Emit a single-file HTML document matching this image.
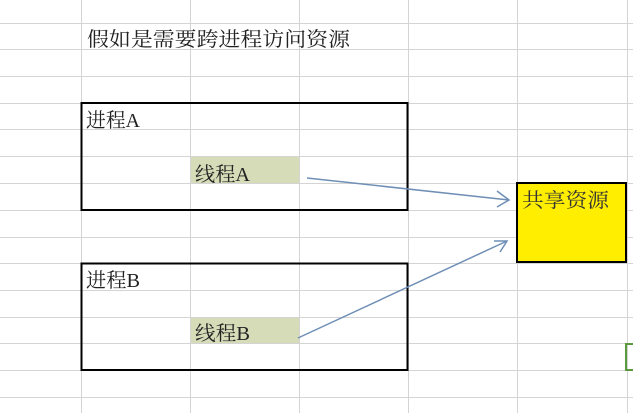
<!DOCTYPE html>
<html><head><meta charset="utf-8"><style>
body{margin:0;width:633px;height:413px;overflow:hidden;background:#fff;font-family:"Liberation Serif","Noto Serif CJK SC","Noto Sans CJK SC",serif;}
</style></head><body>
<svg width="633" height="413" xmlns="http://www.w3.org/2000/svg">
<g stroke="#d4d4d4" stroke-width="1">
<line x1="81.5" y1="0" x2="81.5" y2="413"/><line x1="190.5" y1="0" x2="190.5" y2="413"/><line x1="299.5" y1="0" x2="299.5" y2="413"/><line x1="408.5" y1="0" x2="408.5" y2="413"/><line x1="517.5" y1="0" x2="517.5" y2="413"/><line x1="627.5" y1="0" x2="627.5" y2="413"/>
<line x1="0" y1="23.5" x2="633" y2="23.5"/><line x1="0" y1="49.5" x2="633" y2="49.5"/><line x1="0" y1="76.5" x2="633" y2="76.5"/><line x1="0" y1="103.5" x2="633" y2="103.5"/><line x1="0" y1="129.5" x2="633" y2="129.5"/><line x1="0" y1="156.5" x2="633" y2="156.5"/><line x1="0" y1="183.5" x2="633" y2="183.5"/><line x1="0" y1="210.5" x2="633" y2="210.5"/><line x1="0" y1="237.5" x2="633" y2="237.5"/><line x1="0" y1="263.5" x2="633" y2="263.5"/><line x1="0" y1="290.5" x2="633" y2="290.5"/><line x1="0" y1="317.5" x2="633" y2="317.5"/><line x1="0" y1="343.5" x2="633" y2="343.5"/><line x1="0" y1="370.5" x2="633" y2="370.5"/><line x1="0" y1="397.5" x2="633" y2="397.5"/>
</g>
<rect x="191" y="157" width="108" height="26" fill="#d6dcb8"/>
<rect x="191" y="318" width="108" height="25" fill="#d6dcb8"/>
<rect x="81.5" y="103" width="326" height="107" fill="none" stroke="#000" stroke-width="2"/>
<rect x="81.5" y="263.5" width="326" height="106.5" fill="none" stroke="#000" stroke-width="2"/>
<rect x="517" y="183" width="109" height="79" fill="#ffee00" stroke="#000" stroke-width="2"/>
<rect x="626" y="344" width="8" height="26" fill="none" stroke="#5a9a3c" stroke-width="2"/>
<g fill="#222" font-size="20">
<text x="87" y="46" textLength="263" lengthAdjust="spacingAndGlyphs">假如是需要跨进程访问资源</text>
<text x="86" y="127" textLength="54" lengthAdjust="spacingAndGlyphs">进程A</text>
<text x="195" y="181" textLength="55" lengthAdjust="spacingAndGlyphs">线程A</text>
<text x="86" y="287" textLength="54" lengthAdjust="spacingAndGlyphs">进程B</text>
<text x="195" y="340" textLength="55" lengthAdjust="spacingAndGlyphs">线程B</text>
<text x="522" y="207" fill="#333" textLength="87" lengthAdjust="spacingAndGlyphs">共享资源</text>
</g>
<g stroke="#6f8fb5" stroke-width="1.5" fill="none">
<line x1="307" y1="178" x2="509" y2="200"/>
<polyline points="497,191 509,200 497,207"/>
<line x1="298" y1="338" x2="507" y2="241"/>
<polyline points="494,241 507,241 500,252"/>
</g>
</svg>
</body></html>
